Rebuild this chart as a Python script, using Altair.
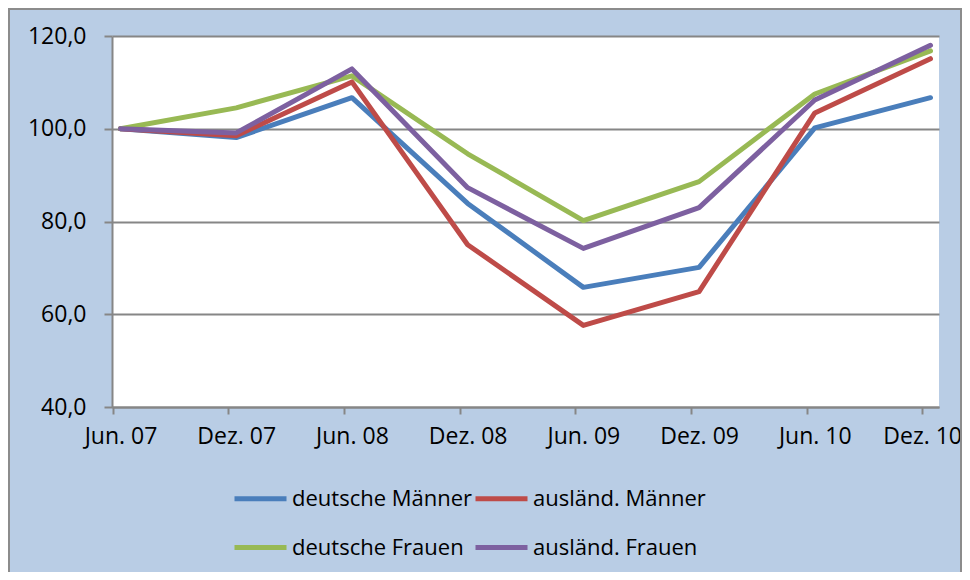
import altair as alt
import pandas as pd

categories = ["Jun. 07", "Dez. 07", "Jun. 08", "Dez. 08", "Jun. 09", "Dez. 09", "Jun. 10", "Dez. 10"]
series_names = ["deutsche Männer", "ausländ. Männer", "deutsche Frauen", "ausländ. Frauen"]
deutsche_maenner = [100.0, 98.1, 106.7, 83.9, 65.8, 70.1, 100.2, 106.7]
auslaend_maenner = [100.0, 98.5, 110.1, 75.0, 57.6, 64.9, 103.4, 115.1]
deutsche_frauen = [100.0, 104.5, 111.4, 94.6, 80.2, 88.6, 107.5, 116.8]
auslaend_frauen = [100.0, 99.1, 112.9, 87.3, 74.2, 83.0, 106.2, 118.0]
colors = ["#4A7EBB", "#BE4B48", "#98B954", "#7D60A0"]

rows = []
for name, vals in zip(series_names, [deutsche_maenner, auslaend_maenner, deutsche_frauen, auslaend_frauen]):
    for i, (c, v) in enumerate(zip(categories, vals)):
        rows.append({"Zeit": c, "Serie": name, "Wert": v, "ord": i})
df = pd.DataFrame(rows)

# legend grid fills column-wise: order domain so rows read DM, AM / DF, AF
legend_order = [series_names[0], series_names[2], series_names[1], series_names[3]]
legend_colors = [colors[0], colors[2], colors[1], colors[3]]

FONT = "Open Sans"
last_test = "datum.value == '%s'" % categories[-1]

lines = alt.Chart(df).mark_line(strokeWidth=5, strokeCap="round", strokeJoin="round").encode(
    x=alt.X("Zeit:N", sort=categories, title=None,
            scale=alt.Scale(type="point", padding=0.0735),
            axis=alt.Axis(labelAngle=0, tickOffset=-8,
                          labelOffset={"condition": {"test": last_test, "value": 39}, "value": 8},
                          labelAlign={"condition": {"test": last_test, "value": "right"}, "value": "center"},
                          tickSize=7,
                          domainColor="#868686", tickColor="#868686", domainWidth=2, tickWidth=2,
                          labelPadding=11, grid=False)),
    y=alt.Y("Wert:Q", title=None,
            scale=alt.Scale(domain=[40, 120], nice=False, zero=False),
            axis=alt.Axis(values=[40, 60, 80, 100, 120], tickSize=8, labelPadding=18,
                          labelExpr="replace(format(datum.value, '.1f'), '.', ',')",
                          grid=True, gridColor="#868686", gridWidth=2,
                          domainColor="#868686", tickColor="#868686", domainWidth=2, tickWidth=2)),
    color=alt.Color("Serie:N", sort=legend_order, title=None,
                    scale=alt.Scale(domain=legend_order, range=legend_colors),
                    legend=alt.Legend(orient="none", legendX=120, legendY=434, columns=2,
                                      symbolType="stroke", symbolSize=2704, symbolStrokeWidth=5,
                                      labelOffset=3, rowPadding=9, columnPadding=-9,
                                      labelLimit=400)),
    order=alt.Order("ord:Q"),
)

frame = alt.Chart(pd.DataFrame({"a": [0]})).mark_rect(fill=None, stroke="#8c8c8c", strokeWidth=2).encode(
    x=alt.value(-103), x2=alt.value(849), y=alt.value(-27), y2=alt.value(700)
)

chart = alt.layer(frame, lines).properties(
    width=827, height=371,
    background="#B9CDE5",
    autosize=alt.AutoSizeParams(type="none"),
    padding={"left": 104, "top": 28, "right": 23, "bottom": 165},
).configure_view(fill="white", stroke=None, clip=False).configure_axis(
    labelFont=FONT, labelFontSize=23, labelColor="black"
).configure_legend(
    labelFont=FONT, labelFontSize=22, labelColor="black"
)

chart.save("out.html", embed_options={"renderer": "svg", "actions": False})
